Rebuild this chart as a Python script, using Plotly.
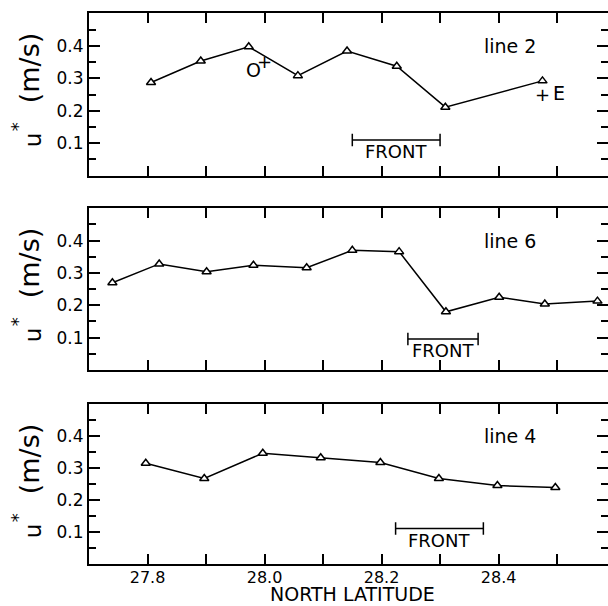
import plotly.graph_objects as go

# ---------------- data ----------------
lat_line2 = [27.806, 27.891, 27.973, 28.057, 28.141, 28.226, 28.309, 28.475]
u_line2 = [0.287, 0.353, 0.397, 0.308, 0.384, 0.337, 0.211, 0.292]

lat_line6 = [27.740, 27.820, 27.901, 27.981, 28.072, 28.150, 28.230, 28.310, 28.401, 28.479, 28.569]
u_line6 = [0.270, 0.328, 0.304, 0.324, 0.316, 0.370, 0.366, 0.180, 0.225, 0.204, 0.213]

lat_line4 = [27.797, 27.897, 27.997, 28.096, 28.198, 28.298, 28.398, 28.497]
u_line4 = [0.316, 0.268, 0.347, 0.333, 0.318, 0.268, 0.246, 0.240]

panel_names = ["line 2", "line 6", "line 4"]
front_start = [28.150, 28.245, 28.224]
front_end = [28.300, 28.365, 28.374]
front_level = [0.110, 0.096, 0.112]

# station marks on line 2 (start "O", end "E")
mark_text = ["O", "+", "+", "E"]
mark_lat = [27.981, 28.000, 28.475, 28.504]
mark_u = [0.324, 0.353, 0.2515, 0.254]

xtick_vals = [27.8, 27.9, 28.0, 28.1, 28.2, 28.3, 28.4, 28.5]
xtick_text = ["27.8", "", "28.0", "", "28.2", "", "28.4", ""]
ytick_vals = [0.1, 0.2, 0.3, 0.4]
ytick_text = ["0.1", "0.2", "0.3", "0.4"]
yminor_vals = [0.05, 0.15, 0.25, 0.35, 0.45]
x_range = [27.7, 28.587]
y_range = [0.0, 0.5]

# ---------------- layout geometry ----------------
W, H = 608, 606
ML = 89
PW = W - ML
FONT = "DejaVu Sans"
panel_px = [(13.3, 175.7), (208.3, 370.0), (404.3, 564.3)]  # top, bottom


def py(p):
    return 1 - p / H


def px(p):
    return (p - ML) / PW


series = [(lat_line2, u_line2), (lat_line6, u_line6), (lat_line4, u_line4)]

fig = go.Figure()
layout = dict(
    width=W, height=H,
    margin=dict(l=ML, r=0, t=0, b=0),
    paper_bgcolor="white", plot_bgcolor="white",
    showlegend=False,
    font=dict(family=FONT, color="black", size=17),
)
annotations = []


def ann(**kw):
    d = dict(showarrow=False, xanchor="center", yanchor="middle")
    d.update(kw)
    annotations.append(d)


for i, ((lats, us), (top, bot)) in enumerate(zip(series, panel_px)):
    n = i + 1
    xa = "x" if n == 1 else f"x{n}"
    ya = "y" if n == 1 else f"y{n}"
    fig.add_trace(go.Scatter(
        x=lats, y=us, xaxis=xa, yaxis=ya, mode="lines+markers",
        line=dict(color="black", width=1.5),
        marker=dict(symbol="triangle-up", size=8, color="white",
                    line=dict(color="black", width=1.5)),
        cliponaxis=False,
    ))
    # FRONT bar
    fig.add_trace(go.Scatter(
        x=[front_start[i], front_end[i]], y=[front_level[i], front_level[i]],
        xaxis=xa, yaxis=ya, mode="lines+markers",
        line=dict(color="black", width=1.5),
        marker=dict(symbol="line-ns", size=9, line=dict(color="black", width=1.5)),
    ))
    ann(x=(front_start[i] + front_end[i]) / 2, y=front_level[i], xref=xa, yref=ya,
        text="FRONT", yshift=-12, font=dict(size=18))
    ann(x=28.42, y=0.40, xref=xa, yref=ya, text=panel_names[i], font=dict(size=19))
    axkey = "xaxis" if n == 1 else f"xaxis{n}"
    aykey = "yaxis" if n == 1 else f"yaxis{n}"
    layout[axkey] = dict(
        domain=[0, 1], anchor=ya, range=x_range,
        showline=True, linecolor="black", linewidth=2, mirror="ticks",
        ticks="inside", ticklen=10, tickwidth=1.5, tickcolor="black",
        tickvals=xtick_vals, ticktext=xtick_text,
        showticklabels=(n == 3), tickfont=dict(size=16),
        ticklabelstandoff=-3,
        showgrid=False, zeroline=False, automargin=False,
    )
    layout[aykey] = dict(
        domain=[py(bot), py(top)], anchor=xa, range=y_range,
        showline=True, linecolor="black", linewidth=2, mirror="ticks",
        ticks="inside", ticklen=11, tickwidth=1.5, tickcolor="black",
        tickvals=ytick_vals, ticktext=ytick_text, tickfont=dict(size=17),
        minor=dict(tickvals=yminor_vals, ticks="inside", ticklen=7,
                   tickwidth=1.5, tickcolor="black", showgrid=False),
        showgrid=False, zeroline=False, automargin=False,
    )
    # y title: "u*" and "(m/s)"
    ann(x=px(29), y=py(top + 55), xref="paper", yref="paper", text="(m/s)",
        textangle=-90, font=dict(size=27))
    ann(x=px(33), y=py(top + 127), xref="paper", yref="paper", text="u",
        textangle=-90, font=dict(size=23))
    ann(x=px(17), y=py(top + 114), xref="paper", yref="paper", text="*",
        textangle=-90, font=dict(size=18))

for t, la, uu in zip(mark_text, mark_lat, mark_u):
    ann(x=la, y=uu, xref="x", yref="y", text=t,
        font=dict(size=19 if t != "+" else 18))

ann(x=px(352), y=py(594), xref="paper", yref="paper", text="NORTH LATITUDE",
    font=dict(size=19))

layout["annotations"] = annotations
fig.update_layout(**layout)
fig.write_html(
    "out.html",
    config={"displayModeBar": False},
    post_script="document.body.style.margin='0px';document.body.style.overflow='hidden';",
)
